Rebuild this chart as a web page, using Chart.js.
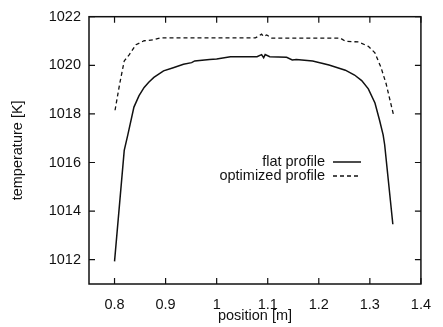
<!DOCTYPE html>
<html>
<head>
<meta charset="utf-8">
<script src="https://cdn.jsdelivr.net/npm/chart.js@4"></script>
<style>
  html, body { margin: 0; padding: 0; background: #fff; }
  canvas { display: block; }
</style>
</head>
<body>
<canvas id="chart" width="443" height="327"></canvas>
<script>
// flat profile (solid)
const flatX = [0.800, 0.819, 0.826, 0.838, 0.848, 0.858, 0.867, 0.877, 0.896, 0.915, 0.935, 0.951, 0.957, 0.986, 1.000, 1.027, 1.079, 1.088, 1.092, 1.095, 1.104, 1.137, 1.148, 1.156, 1.188, 1.220, 1.252, 1.270, 1.284, 1.297, 1.310, 1.319, 1.326, 1.329, 1.336, 1.345];
const flatT = [1011.93, 1016.5, 1017.14, 1018.28, 1018.75, 1019.09, 1019.3, 1019.5, 1019.77, 1019.9, 1020.04, 1020.11, 1020.18, 1020.24, 1020.26, 1020.35, 1020.35, 1020.44, 1020.31, 1020.44, 1020.35, 1020.33, 1020.22, 1020.24, 1020.18, 1020.01, 1019.8, 1019.6, 1019.37, 1019.03, 1018.45, 1017.74, 1017.14, 1016.73, 1015.3, 1013.46];

// optimized profile (dashed)
const optX = [0.801, 0.810, 0.819, 0.829, 0.842, 0.858, 0.877, 0.890, 0.950, 1.076, 1.082, 1.088, 1.092, 1.098, 1.108, 1.242, 1.252, 1.278, 1.297, 1.310, 1.322, 1.332, 1.338, 1.346];
const optT = [1018.15, 1019.23, 1020.18, 1020.44, 1020.85, 1021.01, 1021.05, 1021.13, 1021.13, 1021.13, 1021.2, 1021.28, 1021.19, 1021.25, 1021.12, 1021.12, 1020.99, 1020.96, 1020.78, 1020.51, 1019.9, 1019.23, 1018.69, 1017.99];

const xTicks = [0.8, 0.9, 1.0, 1.1, 1.2, 1.3, 1.4];
const yTicks = [1012, 1014, 1016, 1018, 1020, 1022];

const FONT = "'Liberation Sans', Arial, Helvetica, sans-serif";
const SIZE = 14.5;
const INK = '#111';

const toPoints = (xs, ys) => xs.map((x, i) => ({ x: x, y: ys[i] }));

// frame + inward ticks on all four sides (gnuplot style)
const framePlugin = {
  id: 'frame',
  afterDatasetsDraw(chart) {
    const c = chart.ctx;
    const a = chart.chartArea;
    const sx = chart.scales.x, sy = chart.scales.y;
    const len = 6;
    c.save();
    c.strokeStyle = INK;
    c.lineWidth = 1.5;
    c.strokeRect(a.left, a.top, a.right - a.left, a.bottom - a.top);
    c.lineWidth = 1.2;
    c.beginPath();
    xTicks.forEach(v => {
      const px = sx.getPixelForValue(v);
      c.moveTo(px, a.bottom); c.lineTo(px, a.bottom - len);
      c.moveTo(px, a.top); c.lineTo(px, a.top + len);
    });
    yTicks.forEach(v => {
      const py = sy.getPixelForValue(v);
      c.moveTo(a.left, py); c.lineTo(a.left + len, py);
      c.moveTo(a.right, py); c.lineTo(a.right - len, py);
    });
    c.stroke();
    c.restore();
  }
};

// key inside the plot: right-aligned text followed by line sample
const keyPlugin = {
  id: 'key',
  afterDatasetsDraw(chart) {
    const c = chart.ctx;
    const textRight = 325, sampleL = 333, sampleR = 361;
    const rows = [162, 176];
    c.save();
    c.font = SIZE + 'px ' + FONT;
    c.fillStyle = INK;
    c.textAlign = 'right';
    c.textBaseline = 'middle';
    chart.data.datasets.forEach((ds, i) => {
      const y = rows[i];
      c.fillText(ds.label, textRight, y);
      c.strokeStyle = ds.borderColor;
      c.lineWidth = ds.borderWidth;
      c.setLineDash(ds.borderDash || []);
      c.beginPath();
      c.moveTo(sampleL, y); c.lineTo(sampleR, y);
      c.stroke();
    });
    c.restore();
  }
};

new Chart(document.getElementById('chart'), {
  type: 'line',
  data: {
    datasets: [
      {
        label: 'flat profile',
        data: toPoints(flatX, flatT),
        borderColor: INK,
        borderWidth: 1.5,
        pointRadius: 0,
        tension: 0
      },
      {
        label: 'optimized profile',
        data: toPoints(optX, optT),
        borderColor: INK,
        borderWidth: 1.3,
        borderDash: [4, 3],
        pointRadius: 0,
        tension: 0
      }
    ]
  },
  options: {
    responsive: false,
    animation: false,
    layout: { padding: { top: 13, right: 14, left: 0, bottom: 0 } },
    plugins: { legend: { display: false }, tooltip: { enabled: false } },
    scales: {
      x: {
        type: 'linear',
        min: 0.75,
        max: 1.4,
        afterBuildTicks: s => { s.ticks = xTicks.map(v => ({ value: v })); },
        afterFit: s => { s.height = 43; },
        grid: { display: false, drawTicks: false },
        border: { display: false },
        ticks: {
          color: INK,
          padding: 12,
          maxRotation: 0,
          autoSkip: false,
          font: { family: FONT, size: SIZE },
          callback: v => String(parseFloat(v.toFixed(2)))
        },
        title: {
          display: true,
          text: 'position [m]',
          color: INK,
          padding: { top: 0, bottom: 2 },
          font: { family: FONT, size: SIZE }
        }
      },
      y: {
        min: 1011,
        max: 1022,
        afterBuildTicks: s => { s.ticks = yTicks.map(v => ({ value: v })); },
        afterFit: s => { s.width = 89; },
        grid: { display: false, drawTicks: false },
        border: { display: false },
        ticks: {
          color: INK,
          padding: 8,
          autoSkip: false,
          font: { family: FONT, size: SIZE },
          callback: v => String(v)
        },
        title: {
          display: true,
          text: 'temperature [K]',
          color: INK,
          padding: { top: 9, bottom: 0 },
          font: { family: FONT, size: SIZE }
        }
      }
    }
  },
  plugins: [framePlugin, keyPlugin]
});
</script>
</body>
</html>
